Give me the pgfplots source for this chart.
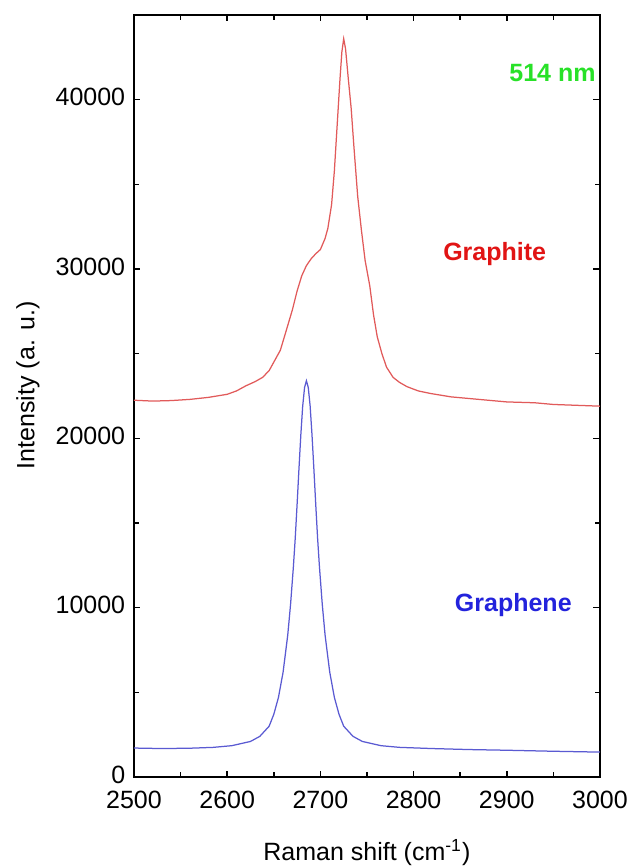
\documentclass[border=0pt]{standalone}
\usepackage{fontspec}
\setmainfont{Liberation Sans}
\usepackage{pgfplots}
\pgfplotsset{compat=1.18}
\definecolor{lred}{RGB}{225,90,90}
\definecolor{lblue}{RGB}{90,90,210}
\definecolor{tred}{RGB}{225,20,20}
\definecolor{tblue}{RGB}{35,35,220}
\definecolor{tgreen}{RGB}{40,225,40}
\begin{document}
\begin{tikzpicture}
\begin{axis}[
  scale only axis,
  width=186.4pt, height=304.8pt,
  xmin=2500, xmax=3000, ymin=0, ymax=45000,
  xtick={2500,2600,...,3000},
  ytick={0,10000,20000,30000,40000},
  minor xtick={2550,2650,...,2950},
  minor ytick={5000,15000,25000,35000},
  tick align=inside,
  major tick length=2.6pt, minor tick length=2pt,
  axis line style={line width=0.8pt},
  every tick/.style={line width=0.6pt, black},
  scaled ticks=false,
  /pgf/number format/assume math mode=true,
  /pgf/number format/set thousands separator={},
  tick label style={font=\fontsize{10}{12}\selectfont},
  xticklabel style={yshift=-2pt},
  yticklabel style={yshift=1pt},
  xlabel={Raman shift (cm\textsuperscript{-1})},
  ylabel={Intensity (a. u.)},
  label style={font=\fontsize{10}{12}\selectfont},
  xlabel style={at={(axis description cs:0.5,-0.0997)}, anchor=center},
  ylabel style={at={(axis description cs:-0.2275,0.514)}, anchor=center, rotate=0},
  clip=false,
]
\coordinate (O) at (rel axis cs:0,0);
\addplot[lred, line width=0.5pt] coordinates {
(2500,22250) (2520,22200) (2540,22230) (2560,22300) (2580,22420) (2600,22600)
(2610,22800) (2620,23100) (2630,23350) (2638,23600) (2645,24000) (2650,24500)
(2657,25200) (2663,26300) (2670,27600) (2675,28700) (2680,29600) (2685,30200)
(2690,30600) (2695,30900) (2700,31150) (2705,31800) (2708,32400) (2712,33800)
(2715,35800) (2718,38500) (2721,41200) (2723,42800) (2725,43600) (2727,43000)
(2730,41200) (2733,39500) (2736,37200) (2740,34300) (2744,32300) (2748,30500)
(2753,29000) (2757,27300) (2761,26000) (2766,25000) (2771,24200) (2778,23600)
(2785,23300) (2793,23050) (2805,22800) (2818,22650) (2840,22450) (2870,22300)
(2900,22150) (2930,22100) (2950,22000) (2975,21950) (3000,21900)
};
\addplot[lblue, line width=0.5pt] coordinates {
(2500,1710) (2530,1680) (2560,1700) (2585,1750) (2605,1850) (2625,2100)
(2635,2400) (2645,3000) (2650,3700) (2655,4700) (2660,6200) (2665,8400)
(2668,10200) (2671,12400) (2673,14100) (2675,16100) (2677,18200) (2679,20200)
(2681,21900) (2683,23000) (2685,23400) (2687,23000) (2689,21900) (2691,20200)
(2693,18200) (2695,16100) (2697,14100) (2699,12400) (2702,10200) (2705,8400)
(2710,6200) (2715,4700) (2720,3700) (2725,3000) (2735,2400) (2745,2100)
(2765,1850) (2785,1750) (2820,1680) (2860,1620) (2900,1580) (2950,1520) (3000,1470)
};
\node[font=\fontsize{10}{12}\selectfont\bfseries, text=tgreen] at (axis cs:2949,41600) {514 nm};
\node[font=\fontsize{10}{12}\selectfont\bfseries, text=tred] at (axis cs:2887,30900) {Graphite};
\node[font=\fontsize{10}{12}\selectfont\bfseries, text=tblue] at (axis cs:2907,10150) {Graphene};
\end{axis}
\pgfresetboundingbox
\path (O) ++(-53.6pt,-36.4pt) rectangle ++(252.8pt,347.2pt);
\end{tikzpicture}
\end{document}
